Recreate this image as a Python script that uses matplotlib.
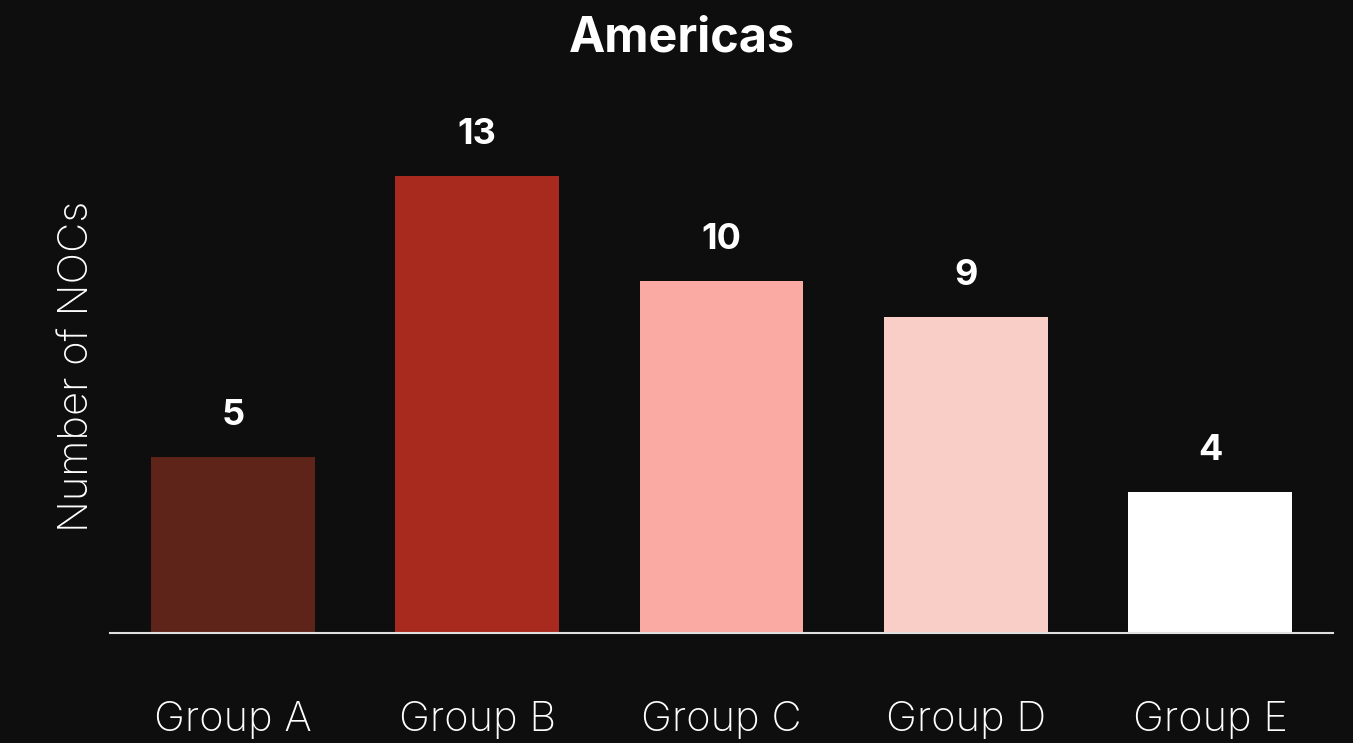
import numpy as np
import matplotlib.pyplot as plt

# Data
groups = ["Group A", "Group B", "Group C", "Group D", "Group E"]
counts = [5, 13, 10, 9, 4]
colors = ["#5E2319", "#A82A1F", "#FBA9A3", "#F9CEC6", "#FFFFFF"]

bg = "#0E0E0E"
plt.rcParams['font.family'] = ['Inter', 'DejaVu Sans']

fig = plt.figure(figsize=(13.53, 7.43), dpi=100, facecolor=bg)
ax = fig.add_axes((0.0813, 0.148, 0.9039, 0.7174), facecolor=bg)

x = np.arange(len(groups))
bars = ax.bar(x, counts, width=0.67, color=colors)

# Value labels above bars
for xi, v in zip(x, counts):
    ax.annotate(str(v), xy=(xi, v), xytext=(0, 18), textcoords="offset points",
                ha="center", va="bottom", color="white", fontsize=26, fontweight="bold")

ax.set_xlim(-0.503, 4.503)
ax.set_ylim(0, 15.16)

ax.set_xticks(x)
ax.set_xticklabels(groups, fontsize=30, color="white", fontweight="light")
ax.tick_params(axis="x", length=0, pad=49)
ax.set_yticks([])

for s in ["top", "right", "left"]:
    ax.spines[s].set_visible(False)
ax.spines["bottom"].set_color("#E0E0E0")
ax.spines["bottom"].set_linewidth(1.5)

ax.set_ylabel("Number of NOCs", fontsize=30, color="white", fontweight="light", labelpad=10)
fig.suptitle("Americas", x=0.504, y=0.979, va="top", fontsize=35, fontweight="bold", color="white")

fig.savefig("out.png", dpi=100, facecolor=bg)
